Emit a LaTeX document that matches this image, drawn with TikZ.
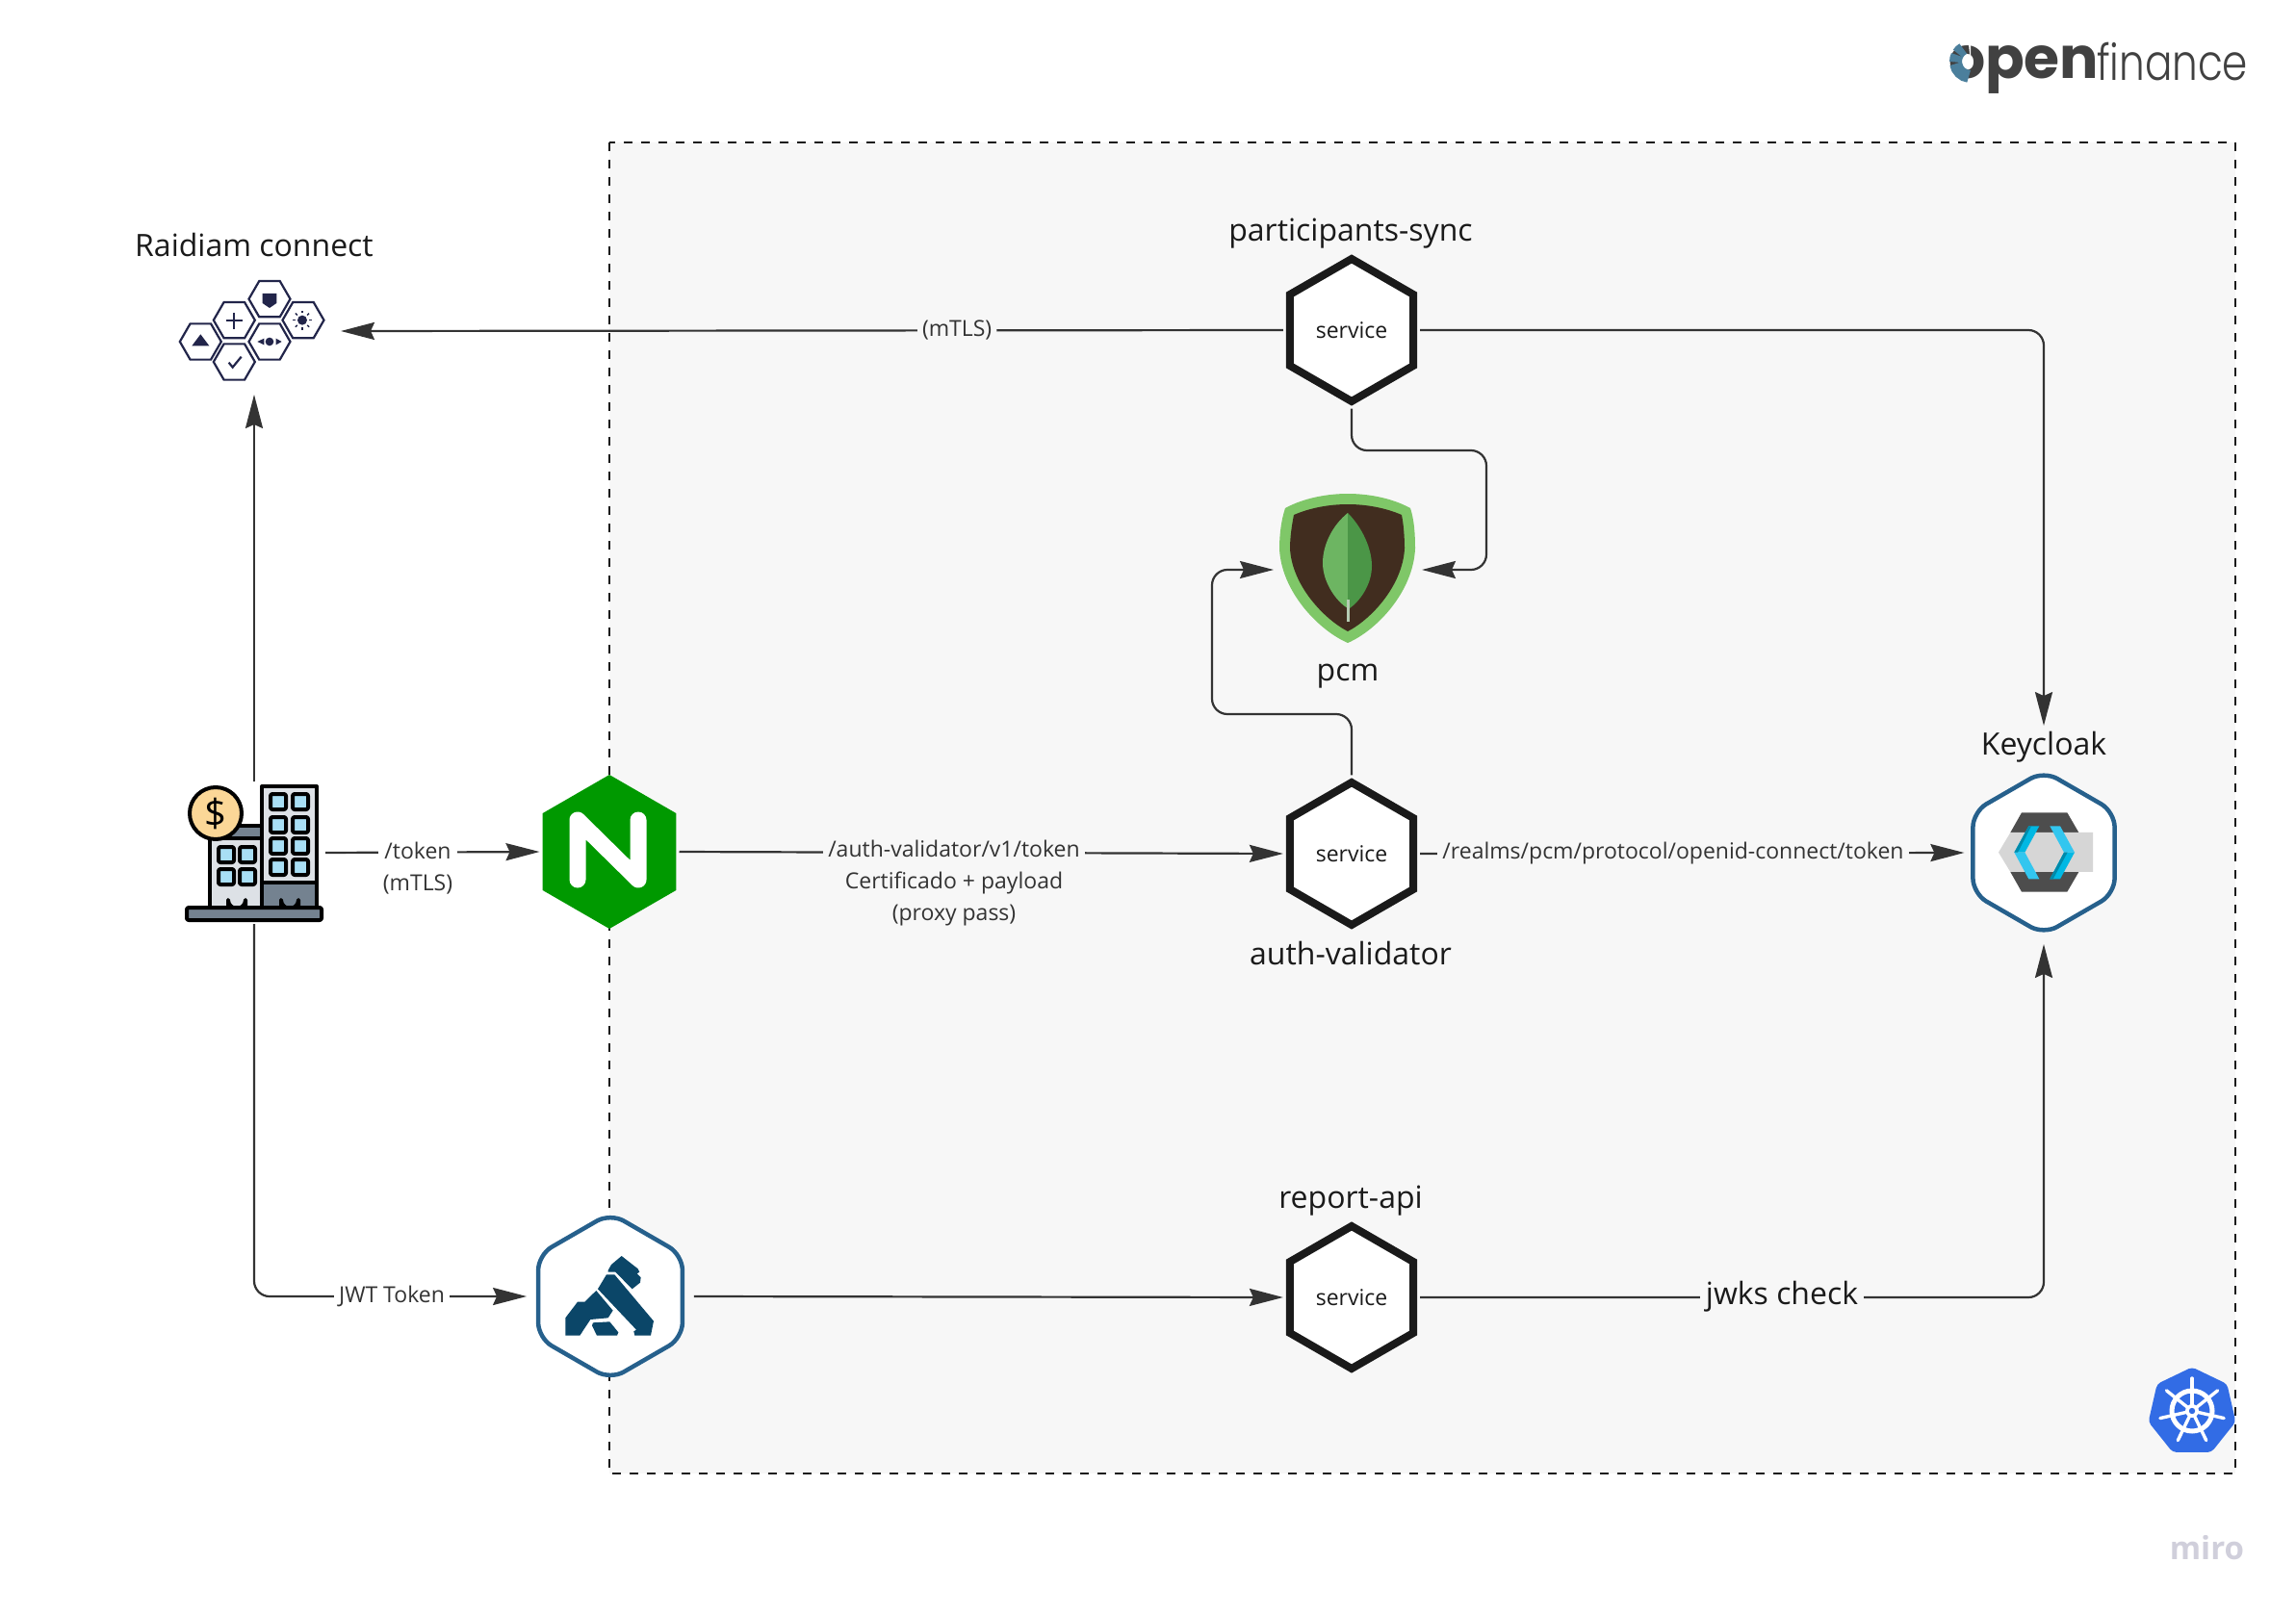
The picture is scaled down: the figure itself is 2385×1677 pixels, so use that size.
\documentclass[tikz,border=0pt]{standalone}
\usepackage{fontspec}
\setmainfont{Open Sans}
\newfontfamily\logobold{Poppins}
\newfontfamily\logolight{Poppins Light}
\usepackage{xcolor}
\usepackage{tikz}
\usetikzlibrary{arrows.meta,shapes.geometric,positioning,calc}

\definecolor{panel}{HTML}{F7F7F7}
\definecolor{ink}{HTML}{1A1A1A}
\definecolor{wire}{HTML}{333333}
\definecolor{konghex}{HTML}{26608C}
\definecolor{kongblue}{HTML}{0B4668}
\definecolor{nginxgreen}{HTML}{009900}
\definecolor{kubeblue}{HTML}{326CE5}
\definecolor{raidiamink}{HTML}{22254A}
\definecolor{mongolight}{HTML}{7FC768}
\definecolor{mongosoil}{HTML}{412D1F}
\definecolor{leafa}{HTML}{6DB562}
\definecolor{leafb}{HTML}{4B9647}
\definecolor{kcdark}{HTML}{4D4D4D}
\definecolor{kcgrey}{HTML}{D6D6D6}
\definecolor{kcblue}{HTML}{00B8E3}
\definecolor{kcpale}{HTML}{33C6EF}
\definecolor{kcdeep}{HTML}{008AAA}
\definecolor{steel}{HTML}{748290}
\definecolor{facade}{HTML}{DDE1E6}
\definecolor{glass}{HTML}{A9DFF5}
\definecolor{coin}{HTML}{FBD797}
\definecolor{logoblue}{HTML}{4B7F9C}
\definecolor{logoink}{HTML}{414141}
\definecolor{miromark}{HTML}{D0CFDB}

\tikzset{
	svchex/.style={regular polygon, regular polygon sides=6, regular polygon rotate=30, minimum size=148pt, inner sep=0pt, draw=ink, line width=8pt, fill=white, text=ink, font=\fontsize{23}{28}\selectfont},
	roundhex/.style={regular polygon, regular polygon sides=6, regular polygon rotate=30, minimum size=170pt, inner sep=0pt, outer sep=6pt, draw=konghex, line width=4.5pt, fill=white, rounded corners=16pt},
	iconbox/.style={inner sep=0pt, outer sep=0pt},
	biglabel/.style={text=ink, font=\fontsize{32}{38}\selectfont},
	smalllabel/.style={text=wire, inner sep=5pt, align=center, font=\fontsize{23}{33}\selectfont},
	flow/.style={->, draw=wire, line width=2.2pt, rounded corners=16pt, shorten <=3pt, shorten >=3pt},
	tinyhex/.style={regular polygon, regular polygon sides=6, minimum size=43pt, inner sep=0pt, draw=raidiamink, line width=2.2pt, fill=white}
}

\begin{document}
\begin{tikzpicture}[x=1pt,y=-1pt,>={Stealth[length=35pt,width=18pt,inset=4pt]}]
	\useasboundingbox (0,0) rectangle (2385,1677);

	\draw[fill=panel, draw=ink, line width=2.6pt, dash pattern=on 9pt off 9pt] (633,148) rectangle (2322,1531);

	% logo
	\node[iconbox, anchor=base west, text=logoink, font=\logobold\bfseries\fontsize{60}{60}\selectfont] (logoopen) at (2024,82) {open};
	\node[iconbox, anchor=base west, text=logoink, xscale=.81, transform shape, font=\logolight\fontsize{52}{52}\selectfont] (logofin) at (2178,84) {finance};
	\fill[white] (2047,64) -- (2047,34) arc[start angle=90,end angle=250,radius=30] -- cycle;
	\draw[logoblue, line width=13pt] (2047,64) ++(97:15.5) arc[start angle=97,end angle=172,radius=15.5];
	\draw[logoblue, line width=13pt] (2047,64) ++(178:15.5) arc[start angle=178,end angle=206,radius=15.5];
	\draw[logoblue, line width=13pt] (2047,64) ++(212:15.5) arc[start angle=212,end angle=240,radius=15.5];

	\node[iconbox, anchor=base east, text=miromark, font=\bfseries\fontsize{33}{33}\selectfont] (miro) at (2331,1620) {miro};

	% named places
	\node[iconbox, minimum width=174pt, minimum height=126pt] (raidiam) at (264,344) {};
	\node[iconbox, minimum width=142pt, minimum height=142pt] (bank) at (264,886) {};
	\node[iconbox, minimum width=148pt, minimum height=155pt] (pcm) at (1400,592) {};
	\coordinate (pcmright) at (1544,468);
	\coordinate (pcmleft) at (1259,742);

	\node[regular polygon, regular polygon sides=6, regular polygon rotate=30, minimum size=160pt, inner sep=0pt, fill=nginxgreen] (nginx) at (633,885) {};
	\draw[white, line width=17pt, line cap=round, line join=round] (600,852) -- (600,914) -- (600,852) -- (663,914) -- (663,852);

	\node[svchex] (sync) at (1404,343) {service};
	\node[svchex] (auth) at (1404,887) {service};
	\node[svchex] (report) at (1404,1348) {service};
	\node[roundhex] (keycloak) at (2123,886) {};
	\node[roundhex, minimum size=173pt, outer sep=9pt] (kong) at (634,1347) {};

	% connectors
	\draw[flow] (sync.west) -- (raidiam.east) node[smalllabel, fill=panel, pos=.347] (syncmtls) {(mTLS)};
	\draw[flow] (sync.east) -| (keycloak.north) [shorten >=40pt];
	\draw[flow] (sync.south) |- (pcmright) |- (pcm.east);
	\draw[flow] (auth.north) |- (pcmleft) |- (pcm.west);
	\draw[flow] (bank.north) -- (raidiam.south);
	\draw[flow] (bank.east) -- (nginx.west);
	\draw[flow] (bank.south) |- (kong.west);
	\draw[flow] (nginx.east) -- (auth.west);
	\draw[flow] (auth.east) -- (keycloak.west);
	\draw[flow] (kong.east) -- (report.west);
	\draw[flow] (report.east) -| (keycloak.south);

	\node[smalllabel, fill=white] (tokentext) at (434,902) {/token\\(mTLS)};
	\node[smalllabel, fill=white] (jwttext) at (407,1347) {JWT Token};
	\node[smalllabel, fill=panel] (authtext) at (991,918) {/auth-validator/v1/token\\Certificado + payload\\(proxy pass)};
	\node[smalllabel, fill=panel] (realmtext) at (1738,887) {/realms/pcm/protocol/openid-connect/token};
	\node[biglabel, fill=panel, inner sep=6pt] (jwkstext) at (1851,1347) {jwks check};

	% titles
	\node[biglabel] (raidiamname) at (264,255) {Raidiam connect};
	\node[biglabel] (syncname) at (1403,243) {participants-sync};
	\node[biglabel] (pcmname) at (1400,703) {pcm};
	\node[biglabel] (authname) at (1403,990) {auth-validator};
	\node[biglabel] (reportname) at (1403,1248) {report-api};
	\node[biglabel] (keycloakname) at (2123,776) {Keycloak};

	% raidiam
	\begin{scope}[shift={(130,220)},x=.3333pt,y=-.3333pt]
		\foreach \hx/\hy/\hname in {235/405/ha,340/338/hb,340/468/hc,450/272/hd,450/405/he,555/338/hf}
			\node[tinyhex] (\hname) at (\hx,\hy) {};
		\fill[raidiamink] (208,418) -- (262,418) -- (235,382) -- cycle;
		\draw[raidiamink, line width=2.2pt] (340,315) -- (340,365) (315,340) -- (365,340);
		\draw[raidiamink, line width=2.2pt] (323,470) -- (335,485) -- (362,452);
		\fill[raidiamink] (428,255) -- (472,255) -- (472,285) -- (450,300) -- (428,285) -- cycle;
		\fill[raidiamink] (450,405) circle [radius=13] (412,405) -- (433,395) -- (433,415) -- cycle (488,405) -- (470,395) -- (470,415) -- cycle;
		\fill[raidiamink] (552,338) circle [radius=15];
		\foreach \ang in {0,45,...,315}
			\draw[raidiamink, line width=1.4pt] (552,338) ++(\ang:22) -- ++(\ang:8);
	\end{scope}

	% bank
	\begin{scope}[draw=black, line width=4pt, line join=round]
		\draw[fill=facade] (218,858) rectangle (272,943);
		\draw[fill=steel] (218,858) rectangle (272,871);
		\draw[fill=facade] (272,817) rectangle (329,917);
		\draw[fill=steel] (272,917) rectangle (329,943);
		\foreach \wx/\wy in {289/833,312/833,289/857,312/857,289/879,312/879,289/901,312/901,235/888,257/888,235/911,257/911}
			\draw[fill=glass, rounded corners=2pt] (\wx-8,\wy-8) rectangle (\wx+8,\wy+8);
		\foreach \wx in {246,301}
			\draw[fill=steel] (\wx-9,943) -- (\wx-9,935) arc[start angle=180,end angle=0,radius=9] -- (\wx+9,943) -- cycle;
		\draw[fill=steel, rounded corners=2pt] (194,943) rectangle (334,956);
		\draw[fill=coin] (224,845) circle [radius=27];
	\end{scope}
	\node[iconbox, font=\fontsize{40}{40}\selectfont] (dollar) at (224,845) {\$};

	% mongo
	\fill[mongolight] (1335,528) .. controls (1355,517) and (1380,513) .. (1400,513) .. controls (1420,513) and (1445,517) .. (1465,528) .. controls (1469,540) and (1470,555) .. (1470,570) .. controls (1468,615) and (1430,655) .. (1400,668) .. controls (1370,655) and (1331,615) .. (1329,570) .. controls (1329,555) and (1331,540) .. (1335,528) -- cycle;
	\fill[mongosoil] (1344,535) .. controls (1360,528) and (1380,524) .. (1400,524) .. controls (1420,524) and (1440,528) .. (1456,535) .. controls (1458,545) and (1459,558) .. (1459,570) .. controls (1457,608) and (1425,643) .. (1400,656) .. controls (1375,643) and (1342,608) .. (1340,570) .. controls (1340,558) and (1342,545) .. (1344,535) -- cycle;
	\fill[leafa] (1400,533) .. controls (1385,545) and (1374,565) .. (1374,585) .. controls (1374,605) and (1388,625) .. (1400,632) -- cycle;
	\fill[leafb] (1400,533) .. controls (1415,548) and (1425,570) .. (1425,588) .. controls (1425,608) and (1412,625) .. (1402,632) -- (1400,632) -- cycle;
	\draw[draw=kcgrey!70!leafa, line width=3pt] (1400,623) -- (1400,646);

	% keycloak
	\begin{scope}[shift={(2020,780)},x=.3333pt,y=-.3333pt]
		\fill[kcdark] (240,193) -- (382,193) -- (418,255) -- (205,255) -- cycle;
		\fill[kcdark] (205,378) -- (418,378) -- (382,440) -- (240,440) -- cycle;
		\fill[kcgrey] (205,255) -- (462,255) -- (462,378) -- (205,378) -- (168,317) -- cycle;
		\fill[kcblue] (262,235) -- (295,235) -- (250,317) -- (217,317) -- cycle;
		\fill[kcpale] (217,317) -- (250,317) -- (295,400) -- (262,400) -- cycle;
		\fill[kcdeep] (217,317) -- (262,235) -- (270,235) -- (228,317) -- cycle;
		\fill[kcpale] (328,235) -- (360,235) -- (405,317) -- (372,317) -- cycle;
		\fill[kcblue] (372,317) -- (405,317) -- (360,400) -- (328,400) -- cycle;
		\fill[kcdeep] (372,317) -- (328,400) -- (338,400) -- (383,317) -- cycle;
	\end{scope}

	% kong
	\begin{scope}[shift={(530,1240)},x=.3333pt,y=-.3333pt,fill=kongblue]
		\fill (305,240) -- (315,222) -- (347,195) -- (398,235) -- (403,245) -- (395,250) -- (407,262) -- (405,278) -- (380,298) -- (328,245) -- (305,245) -- cycle;
		\fill (300,253) -- (325,253) -- (447,398) -- (438,443) -- (388,443) -- (385,430) -- (393,425) -- (273,298) -- cycle;
		\fill (268,303) -- (320,365) -- (305,388) -- (250,393) -- (217,443) -- (172,443) -- (172,388) -- (210,338) -- (232,338) -- cycle;
		\fill (258,403) -- (310,400) -- (337,433) -- (333,443) -- (270,443) -- (255,412) -- cycle;
	\end{scope}

	% kubernetes
	\node[regular polygon, regular polygon sides=7, minimum size=93pt, inner sep=0pt, fill=kubeblue, rounded corners=4pt] (kube) at (2277,1467) {};
	\draw[white, line width=5pt] (2277,1466) circle [radius=21];
	\foreach \ang in {0,1,...,6}
		\draw[white, line width=3.4pt, line cap=round] (2277,1466) -- ++({-90+\ang*360/7}:34);
	\fill[white] (2277,1466) circle [radius=7];
	\fill[kubeblue] (2277,1466) circle [radius=3.2];
\end{tikzpicture}
\end{document}
